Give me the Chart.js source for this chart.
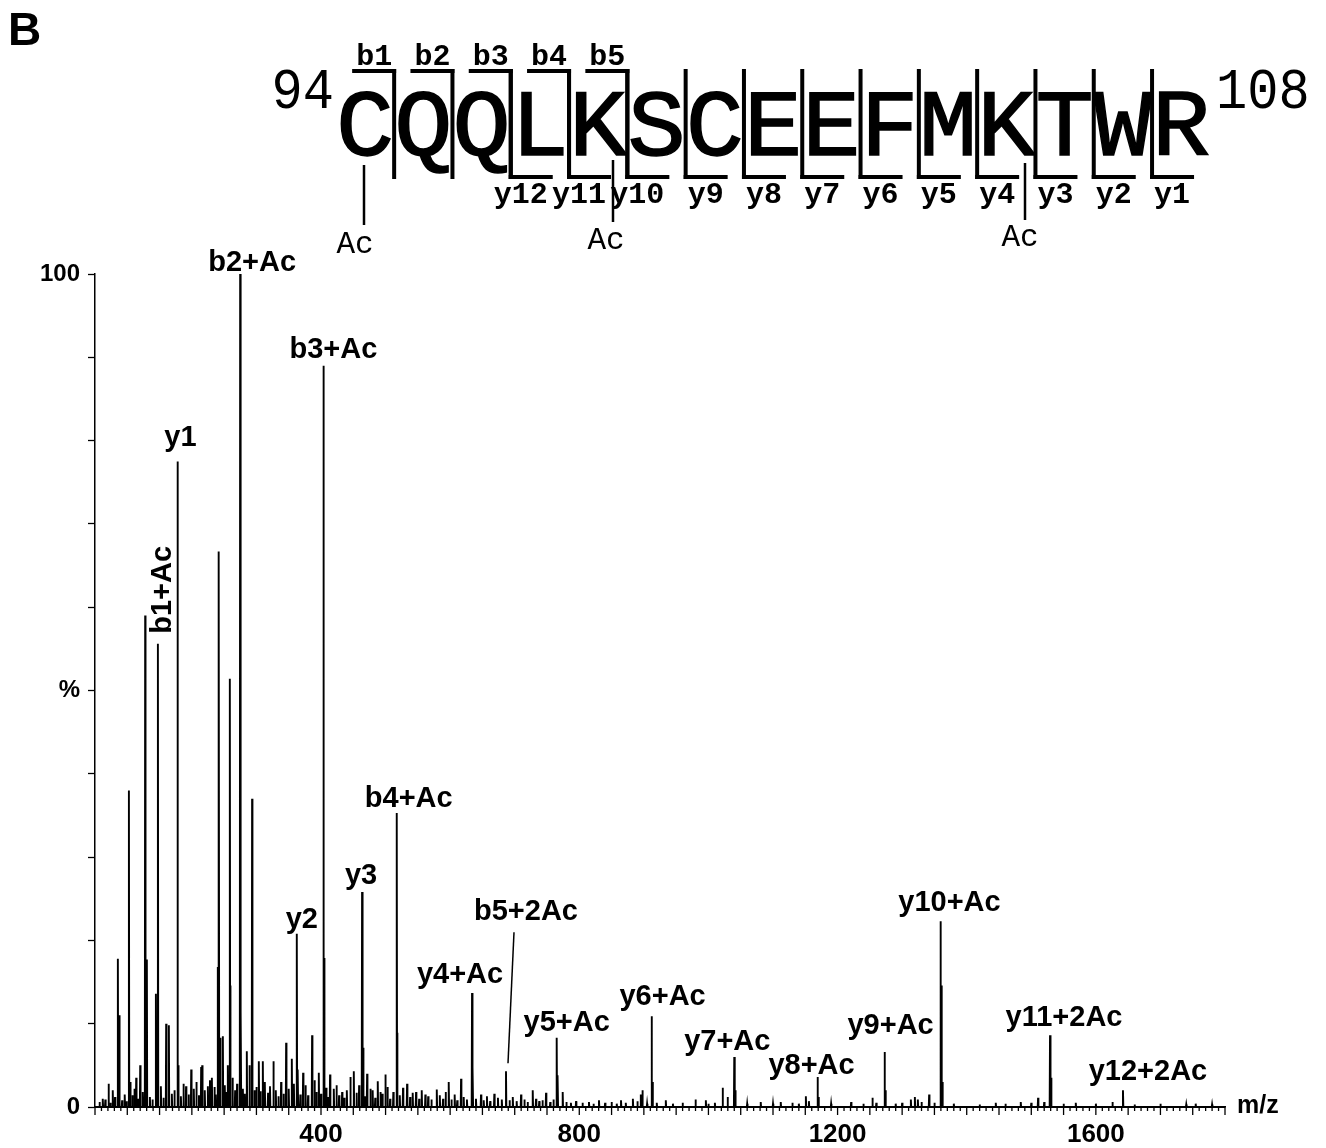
<!DOCTYPE html>
<html><head><meta charset="utf-8">
<script src="https://cdn.jsdelivr.net/npm/chart.js@4.4.1/dist/chart.umd.min.js"></script>
<style>html,body{margin:0;padding:0;background:#fff;}#wrap{position:relative;width:1326px;height:1148px;}</style>
</head><body><div id="wrap"><canvas id="c" width="1326" height="1148"></canvas></div>
<script>
// ---- data (m/z, relative intensity %) ----
const peakMz = [62,71,77.5,85.4,87.5,102.5,104.5,113.8,120,127.7,130.3,144.3,147.4,160.2,164.4,177.7,178.8,191,199,214.4,216,224.8,231,240.2,241.8,243.8,248,255.7,258.8,259.8,274.8,275.9,285.1,289.2,293.3,297,303.7,309.9,326.3,338.2,346,354.8,362.5,364.1,372.3,386.2,396.6,403.7,404.8,414,419.8,432.7,445.5,450.8,463.6,465.2,471.4,476.5,487.9,492,499.7,517.3,518.3,533.3,547.2,561.6,579.3,597.8,616.9,633.9,635,647.8,668.4,686.5,709.8,727.9,748.5,765,766.6,774.3,830.5,864.6,883,895,897.8,912,913.6,934,980,996,1022,1029.7,1040,1041.5,1081,1112,1150.9,1155.6,1169,1170.6,1221,1254,1272.8,1274.3,1313.5,1319.7,1324.3,1341.8,1359.4,1361,1362.5,1445,1483.7,1510.5,1529,1530.6,1568.9,1625.7,1642,1754.6];
const peakInt = [1.0,2.8,2.0,17.8,11.0,38.0,3.0,3.5,5.0,59.0,17.7,13.6,55.6,10.0,9.8,77.5,5.0,2.5,4.5,4.8,5.0,2.5,3.5,16.8,66.7,8.3,8.5,5.0,51.4,14.6,100,11.5,6.7,5.0,37.0,2.0,5.5,5.5,5.5,3.0,7.7,5.8,20.8,4.5,4.1,8.6,4.1,89.0,17.9,3.9,2.2,1.8,3.6,4.3,25.8,7.1,4.0,2.2,3.1,1.8,3.9,35.3,8.9,2.8,1.8,1.5,2.1,3.0,3.4,13.7,4.8,1.5,1.6,4.3,1.5,2.0,1.7,8.3,3.8,1.8,0.8,0.8,1.0,1.5,2.0,10.9,3.0,0.8,0.9,0.8,2.3,1.2,6.0,2.0,0.6,0.6,1.3,0.7,3.6,1.2,0.6,1.1,6.6,2.0,0.9,1.2,0.9,1.5,22.3,14.6,3.0,0.5,0.6,1.1,8.6,3.5,0.5,0.6,2.0,0.4];
const minorMz = [57,66,74,81,92,96,99,108,111,117,124,135,139,152,156,169,173,183,187,195,203,207,211,220,228,235,237,251,253,263,267,270,279,282,300,306,313,318,321,330,334,342,350,358,368,376,380,390,393,400,408,411,424,428,436,440,455,459,468,480,484,495,503,507,512,522,527,538,542,552,556,566,571,584,589,593,602,607,611,621,626,640,652,657,662,674,680,692,697,703,715,720,733,738,743,755,760,780,787,795,805,815,822,840,850,858,872,890,905,920,945,960,1000,1010,1060,1100,1130,1140,1190,1240,1260,1290,1300,1330,1350,1380,1420,1460,1500,1520,1550,1600,1660,1700,1740,1780];
const minorInt = [0.6,0.9,0.5,1.2,0.8,1.5,0.7,1.4,2.2,1.0,1.8,1.2,0.9,2.5,1.1,1.6,2.0,1.3,2.8,1.5,2.2,3.0,1.4,2.0,3.2,2.4,1.5,2.6,1.8,3.5,2.0,2.8,2.2,1.6,2.4,1.9,3.0,1.7,2.5,2.0,1.3,1.6,2.2,2.8,1.5,2.6,1.4,3.2,1.8,1.6,2.3,1.2,2.6,1.4,1.1,2.0,1.7,2.6,1.3,2.0,1.1,1.6,2.4,1.0,1.8,1.4,2.3,1.2,1.7,1.0,2.0,1.3,0.9,1.4,1.0,1.8,0.9,1.5,0.8,1.2,0.9,1.0,0.8,1.3,0.7,1.1,0.9,0.8,1.2,0.7,0.9,0.6,1.0,0.7,0.8,0.6,0.9,0.6,0.5,0.7,0.5,0.6,0.4,0.5,0.6,0.4,0.5,0.7,0.4,0.5,0.4,0.5,0.4,0.5,0.4,0.4,0.5,0.4,0.4,0.4,0.5,0.4,0.5,0.6,0.5,0.4,0.3,0.4,0.5,0.6,0.4,0.4,0.3,0.4,0.3,0.3];
const xTickLabels = [400, 800, 1200, 1600];
const yTickLabels = {0: '0', 50: '%', 100: '100'};
const labelText = ['b2+Ac','b3+Ac','y1','b1+Ac','y2','y3','b4+Ac','y4+Ac','b5+2Ac','y5+Ac','y6+Ac','y7+Ac','y8+Ac','y9+Ac','y10+Ac','y11+2Ac','y12+2Ac'];
const labelPeakMz = [274.8,403.7,177.7,147.4,362.5,463.6,517.3,633.9,686.5,765,912,1040,1169,1272.8,1359.4,1529,1642];
const sequence = ['C','Q','Q','L','K','S','C','E','E','F','M','K','T','W','R'];
const bIons = ['b1','b2','b3','b4','b5'];
const yIons = ['y12','y11','y10','y9','y8','y7','y6','y5','y4','y3','y2','y1'];
const startResidue = '94', endResidue = '108';

// ---- label placement styles (pixel offsets from peak top) ----
const labelStyle = [
  {dx:12,dy:-3},{dx:10,dy:-8},{dx:3,dy:-15},{dx:5,dy:-54,rot:true},{dx:5,dy:-6},{dx:-1,dy:-8},
  {dx:12,dy:-6},{dx:-12,dy:-10},{dx:20,dy:-151,leader:true},{dx:10,dy:-7},{dx:11,dy:-11},
  {dx:-7,dy:-7},{dx:-6,dy:-3},{dx:6,dy:-18},{dx:9,dy:-10},{dx:14,dy:-9},{dx:25,dy:-10}
];

// ---- build stick spectrum ----
const all = peakMz.map((m,i)=>[m,peakInt[i]]).concat(minorMz.map((m,i)=>[m,minorInt[i]])).sort((a,b)=>a[0]-b[0]);
const half = 0.55;
const sticks = [{x:50,y:0}];
for (const [m,v] of all) sticks.push({x:m-half,y:0},{x:m,y:v},{x:m+half,y:0});
sticks.push({x:1800,y:0});

const SANS = '"Liberation Sans", Arial, Helvetica, sans-serif';
const MONO = '"Liberation Mono", "Courier New", monospace';

function txt(ctx, s, x, y, font, align, sy) {
  ctx.save(); ctx.translate(x, y); ctx.scale(1, sy || 1);
  ctx.font = font; ctx.textAlign = align || 'center'; ctx.textBaseline = 'alphabetic';
  ctx.fillText(s, 0, 0); ctx.restore();
}
function line(ctx, x1, y1, x2, y2, w) {
  ctx.save(); ctx.lineWidth = w; ctx.strokeStyle = '#000'; ctx.lineCap = 'butt';
  ctx.beginPath(); ctx.moveTo(x1, y1); ctx.lineTo(x2, y2); ctx.stroke(); ctx.restore();
}

const decor = {
  id: 'decor',
  afterDraw(chart) {
    const ctx = chart.ctx, xs = chart.scales.x, ys = chart.scales.y;
    ctx.save(); ctx.fillStyle = '#000'; ctx.strokeStyle = '#000';
    // x minor/medium ticks
    const bottom = chart.chartArea.bottom;
    for (let v = 50; v <= 1800; v += 10) {
      const px = xs.getPixelForValue(v);
      line(ctx, px, bottom, px, bottom + (v % 50 === 0 ? 8 : 4), 1.3);
    }
    txt(ctx, 'm/z', 1237, 1113, 'bold 25px ' + SANS, 'left');
    // peak labels
    labelText.forEach((t, i) => {
      const idx = peakMz.indexOf(labelPeakMz[i]);
      const px = xs.getPixelForValue(peakMz[idx]);
      const py = ys.getPixelForValue(peakInt[idx]);
      const st = labelStyle[i];
      if (st.rot) {
        ctx.save(); ctx.translate(px + st.dx, py + st.dy); ctx.rotate(-Math.PI / 2);
        ctx.font = 'bold 29px ' + SANS; ctx.textAlign = 'center'; ctx.textBaseline = 'middle';
        ctx.fillText(t, 0, 0); ctx.restore();
      } else {
        txt(ctx, t, px + st.dx, py + st.dy, 'bold 29px ' + SANS, 'center');
      }
      if (st.leader) line(ctx, px + 8, py + st.dy + 12, px + 2, py - 8, 1.5);
    });
    // header
    txt(ctx, 'B', 8, 45, 'bold 46px ' + SANS, 'left');
    const c0 = 365, pitch = 58.3;
    const bnd = k => c0 + pitch * (k - 0.5);
    txt(ctx, startResidue, 334, 108, '52px ' + MONO, 'right', 1.1);
    txt(ctx, endResidue, 1216, 108, '52px ' + MONO, 'left', 1.1);
    sequence.forEach((s, i) => txt(ctx, s, c0 + pitch * i, 155, '97px ' + MONO, 'center', 0.98));
    sequence.forEach((s, i) => { ctx.save(); ctx.lineWidth = 1.5; ctx.strokeStyle = '#000';
      ctx.translate(c0 + pitch * i, 155); ctx.scale(1, 0.98); ctx.font = '97px ' + MONO; ctx.textAlign = 'center';
      ctx.strokeText(s, 0, 0); ctx.restore(); });
    bIons.forEach((b, i) => {
      const x = bnd(i + 1);
      txt(ctx, b, x - 20, 65, 'bold 30px ' + MONO, 'center');
      line(ctx, x - 42, 71, x + 2, 71, 4);
      line(ctx, x, 69, x, 179, 4);
    });
    yIons.forEach((y, i) => {
      const x = bnd(i + 3);
      line(ctx, x, 69, x, 179, 4);
      line(ctx, x - 2, 177, x + 42, 177, 4);
      txt(ctx, y, x + (y.length > 2 ? 10 : 20), 203, 'bold 30px ' + MONO, 'center');
    });
    const acs = [[364, 165, 225, 355, 253], [613, 160, 222, 606, 249], [1025, 163, 220, 1020, 246]];
    acs.forEach(a => { line(ctx, a[0], a[1], a[0], a[2], 2.5); txt(ctx, 'Ac', a[3], a[4], '31px ' + MONO, 'center'); });
    ctx.restore();
  }
};

new Chart(document.getElementById('c'), {
  type: 'line',
  data: { datasets: [{ data: sticks, borderColor: '#000', borderWidth: 1.9, pointRadius: 0, tension: 0, fill: false, clip: false }] },
  options: {
    responsive: false, animation: false, devicePixelRatio: 1,
    layout: { padding: { left: 0, top: 274, right: 101, bottom: 0 } },
    plugins: { legend: { display: false }, tooltip: { enabled: false } },
    scales: {
      x: {
        type: 'linear', min: 50, max: 1800,
        afterBuildTicks: s => { s.ticks = xTickLabels.map(v => ({ value: v })); },
        afterFit: s => { s.height = 41; },
        grid: { display: true, drawOnChartArea: false, drawTicks: false },
        border: { display: true, color: '#000', width: 1.5 },
        ticks: { color: '#000', font: { family: SANS, size: 26, weight: 'bold' }, padding: 12, maxRotation: 0, autoSkip: false,
          callback: v => String(v) }
      },
      y: {
        min: 0, max: 100,
        afterFit: s => { s.width = 95; },
        grid: { display: true, drawOnChartArea: false, drawTicks: true, tickLength: 7, tickColor: '#000', tickWidth: 1.3 },
        border: { display: true, color: '#000', width: 1.5 },
        ticks: { stepSize: 10, autoSkip: false, color: '#000', padding: 8, font: { family: SANS, size: 24, weight: 'bold' },
          callback: v => (yTickLabels[v] !== undefined ? yTickLabels[v] : '') }
      }
    }
  },
  plugins: [decor]
});
</script></body></html>
